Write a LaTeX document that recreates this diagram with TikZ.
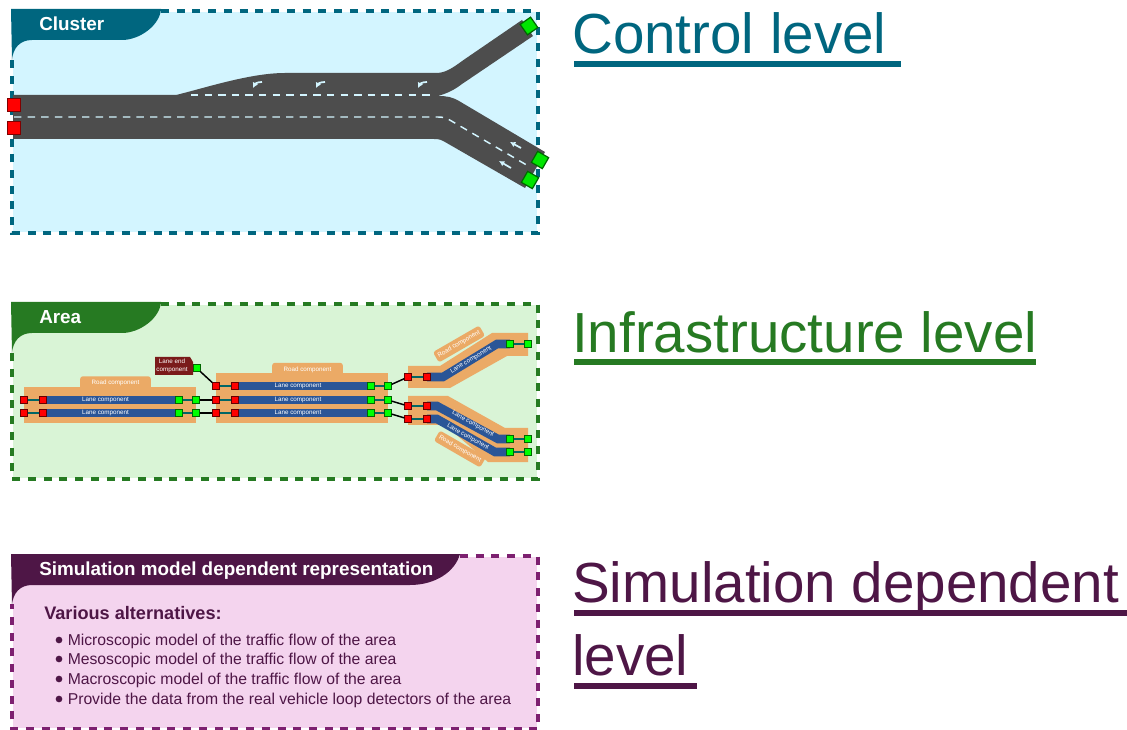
\documentclass[tikz,border=0pt]{standalone}
\usepackage{fontspec}
\setmainfont{Liberation Sans}
\usepackage{xcolor}
\usetikzlibrary{arrows.meta}

\definecolor{clusterblue}{HTML}{00667F}
\definecolor{clusterfill}{HTML}{D3F5FF}
\definecolor{areagreen}{HTML}{267A22}
\definecolor{areafill}{HTML}{D9F4D6}
\definecolor{simpurple}{HTML}{4E1646}
\definecolor{simdash}{HTML}{7D2070}
\definecolor{simfill}{HTML}{F4D4EE}
\definecolor{roadgrey}{HTML}{4D4D4D}
\definecolor{roadorange}{HTML}{EBAA66}
\definecolor{laneblue}{HTML}{2A5597}
\definecolor{endred}{HTML}{7A1A1A}

\tikzset{
 framedash/.style={line width=2.5pt, dash pattern=on 6pt off 5.8pt},
 tabtext/.style={anchor=base west, inner sep=0pt, text=white, font=\fontsize{14.15}{16}\selectfont\bfseries},
 leveltext/.style={anchor=base west, inner sep=0pt, font=\fontsize{42.4}{48}\selectfont},
 levelrule/.style={line width=5pt},
 bigred/.style={draw=red!50!black, fill=red, line width=0.9pt, inner sep=0pt, minimum size=9.5pt},
 biggreen/.style={draw=green!40!black, fill=green!90!black, line width=0.9pt, inner sep=0pt, minimum size=9.5pt},
 redend/.style={draw=red!40!black, fill=red, line width=0.5pt, inner sep=0pt, minimum size=5pt},
 greenend/.style={draw=green!40!black, fill=green, line width=0.5pt, inner sep=0pt, minimum size=5pt},
 inlink/.style={draw=teal!80!black, line width=0.9pt},
 outlink/.style={draw=black, line width=1.1pt},
 lanepath/.style={draw=laneblue, line width=6.4pt},
 smalltext/.style={inner sep=0pt, text=white, font=\fontsize{4.7}{5.6}\selectfont},
 roadtab/.style={fill=roadorange, rounded corners=2pt, minimum width=40pt, minimum height=9pt, inner sep=0pt, text=white, font=\fontsize{4.7}{5.6}\selectfont},
 markdash/.style={draw=clusterfill, line width=1.1pt, dash pattern=on 5.6pt off 4.6pt},
 markarrow/.style={draw=clusterfill, line width=1.3pt, -{Latex[length=4pt,width=4.4pt]}},
 bulletdot/.style={circle, fill=simpurple, inner sep=0pt, minimum size=5pt},
 bullettext/.style={anchor=base west, inner sep=0pt, text=simpurple, font=\fontsize{11.8}{14}\selectfont},
}

\begin{document}
\begin{tikzpicture}[x=0.75pt,y=-0.75pt]
\useasboundingbox (0,0) rectangle (1127,730);

% control level
\fill[clusterfill] (13,12) rectangle (537,232);
\draw[clusterblue, framedash] (161,11)--(538,11)--(538,233)--(12,233)--(12,60);
\fill[clusterblue] (11,9)--(161,9) .. controls (160,25) and (140,40) .. (122,40) --(32,40) .. controls (20,40) and (13,48) .. (12,60)--cycle;
\node[tabtext] (clusterTab) at (39,31) {Cluster};

\fill[roadgrey] (13,95)--(176,95) .. controls (205,88) and (250,73) .. (285,73)--(438,73)
 .. controls (448,72) and (455,66) .. (465,59)--(522,20)--(533,36)--(462,84)
 .. controls (454,90) and (448,93) .. (438,96) .. controls (447,96) and (452,97) .. (459,101)
 --(545,152)--(525,188)--(445,142) .. controls (441,140) and (440,139) .. (434,139)--(13,139)--cycle;
\draw[markdash] (191,95)--(430,95);
\draw[markdash] (14,117)--(438,117) .. controls (443,117) and (445,118) .. (448,119)--(530,167);
\draw[markarrow] (262,82) .. controls (257,82) and (255,84) .. (253,88);
\draw[markarrow] (325,82) .. controls (320,82) and (318,84) .. (316,88);
\draw[markarrow] (427,82) .. controls (422,82) and (420,84) .. (418,88);
\draw[markarrow] (521,148)--(510,142);
\draw[markarrow] (511,168)--(499,161);

\node[bigred] (inA) at (14,105) {};
\node[bigred] (inB) at (14,128) {};
\node[biggreen, rotate=35] (outA) at (529,26) {};
\node[biggreen, rotate=-30] (outB) at (540,160) {};
\node[biggreen, rotate=-30] (outC) at (530,180) {};

\node[leveltext, text=clusterblue] (controlText) at (572,54) {Control level};
\coordinate (controlRuleA) at (574,64);
\coordinate (controlRuleB) at (901,64);
\draw[clusterblue, levelrule] (controlRuleA)--(controlRuleB);

% infrastructure level
\fill[areafill] (13,305) rectangle (537,478);
\draw[areagreen, framedash] (161,304)--(538,304)--(538,479)--(12,479)--(12,352);
\fill[areagreen] (11,302)--(161,302) .. controls (160,318) and (140,333) .. (122,333) --(32,333) .. controls (20,333) and (13,341) .. (12,353)--cycle;
\node[tabtext] (areaTab) at (39,324) {Area};

% road components
\fill[roadorange] (24,387) rectangle (196,423);
\node[roadtab, minimum width=53pt, minimum height=10pt] (roadTabA) at (115.5,383) {\raisebox{1pt}{Road component}};
\fill[roadorange] (216,373) rectangle (388,423);
\node[roadtab, minimum width=53pt, minimum height=10pt] (roadTabB) at (307.5,369.5) {\raisebox{1pt}{Road component}};
\fill[roadorange] (408,366)--(440,366)--(492,333)--(528,333)--(528,356)--(507,356)--(450,388)--(408,388)--cycle;
\fill[roadorange] (408,396)--(448,396)--(505,428)--(528,428)--(528,462)--(488,462)--(445,425)--(408,425)--cycle;
\node[roadtab, rotate=30] (roadTabC) at (459,344) {Road component};
\node[roadtab, rotate=-30] (roadTabD) at (460,449) {Road component};

% lanes
\draw[lanepath] (43,400)--(179,400);
\draw[lanepath] (43,413)--(179,413);
\draw[lanepath] (235,386)--(371,386);
\draw[lanepath] (235,400)--(371,400);
\draw[lanepath] (235,413)--(371,413);
\draw[lanepath] (427,377)--(443,377)--(497,344)--(510,344);
\draw[lanepath] (427,406)--(437,406)--(498,439)--(510,439);
\draw[lanepath] (427,419)--(437,419)--(495,452)--(510,452);

\node[smalltext] (laneA) at (105.5,400) {Lane component};
\node[smalltext] (laneB) at (105.5,413) {Lane component};
\node[smalltext] (laneC) at (298,386) {Lane component};
\node[smalltext] (laneD) at (298,400) {Lane component};
\node[smalltext] (laneE) at (298,413) {Lane component};
\node[smalltext, rotate=31] (laneF) at (471,360) {Lane component};
\node[smalltext, rotate=-29] (laneG) at (473,424) {Lane component};
\node[smalltext, rotate=-29] (laneH) at (468,437) {Lane component};

% lane end component
\fill[endred] (155,357)--(190,357)--(193,362)--(193,375)--(155,375)--cycle;
\node[smalltext, align=center] (laneEnd) at (172,366) {Lane end\\component};

% end points
\node[redend] (ra1) at (24,400) {};
\node[redend] (ra2) at (43,400) {};
\node[greenend] (ga1) at (179,400) {};
\node[greenend] (ga2) at (196,400) {};
\node[redend] (rb1) at (24,413) {};
\node[redend] (rb2) at (43,413) {};
\node[greenend] (gb1) at (179,413) {};
\node[greenend] (gb2) at (196,413) {};

\node[greenend] (gEnd) at (196.5,368) {};

\node[redend] (rc1) at (216,386) {};
\node[redend] (rc2) at (235,386) {};
\node[greenend] (gc1) at (371,386) {};
\node[greenend] (gc2) at (388,386) {};
\node[redend] (rd1) at (216,400) {};
\node[redend] (rd2) at (235,400) {};
\node[greenend] (gd1) at (371,400) {};
\node[greenend] (gd2) at (388,400) {};
\node[redend] (re1) at (216,413) {};
\node[redend] (re2) at (235,413) {};
\node[greenend] (ge1) at (371,413) {};
\node[greenend] (ge2) at (388,413) {};

\node[redend] (rf1) at (408,377) {};
\node[redend] (rf2) at (427,377) {};
\node[greenend] (gf1) at (510,344) {};
\node[greenend] (gf2) at (528,344) {};
\node[redend] (rg1) at (408,406) {};
\node[redend] (rg2) at (427,406) {};
\node[greenend] (gg1) at (510,439) {};
\node[greenend] (gg2) at (528,439) {};
\node[redend] (rh1) at (408,419) {};
\node[redend] (rh2) at (427,419) {};
\node[greenend] (gh1) at (510,452) {};
\node[greenend] (gh2) at (528,452) {};

\draw[inlink] (ra1)--(ra2);
\draw[inlink] (ga1)--(ga2);
\draw[inlink] (rb1)--(rb2);
\draw[inlink] (gb1)--(gb2);
\draw[inlink] (rc1)--(rc2);
\draw[inlink] (gc1)--(gc2);
\draw[inlink] (rd1)--(rd2);
\draw[inlink] (gd1)--(gd2);
\draw[inlink] (re1)--(re2);
\draw[inlink] (ge1)--(ge2);
\draw[inlink] (rf1)--(rf2);
\draw[inlink] (gf1)--(gf2);
\draw[inlink] (rg1)--(rg2);
\draw[inlink] (gg1)--(gg2);
\draw[inlink] (rh1)--(rh2);
\draw[inlink] (gh1)--(gh2);

\draw[outlink] (gEnd)--(rc1);
\draw[outlink] (ga2)--(rd1);
\draw[outlink] (gb2)--(re1);
\draw[outlink] (gc2)--(rf1);
\draw[outlink] (gd2)--(rg1);
\draw[outlink] (ge2)--(rh1);

\node[leveltext, text=areagreen] (infraText) at (572,353) {Infrastructure level};
\coordinate (infraRuleA) at (574,362);
\coordinate (infraRuleB) at (1036,362);
\draw[areagreen, levelrule] (infraRuleA)--(infraRuleB);

% simulation dependent level
\fill[simfill] (13,557) rectangle (537,728);
\draw[simdash, framedash] (460,556)--(538,556)--(538,729)--(12,729)--(12,604);
\fill[simpurple] (11,554)--(460,554) .. controls (455,572) and (435,585) .. (410,585) --(32,585) .. controls (20,585) and (13,593) .. (12,605)--cycle;
\node[tabtext] (simTab) at (39,575) {Simulation model dependent representation};
\node[tabtext, text=simpurple, font=\fontsize{13.6}{16}\selectfont\bfseries] (variousText) at (44,619) {Various alternatives:};

\node[bulletdot] (dotA) at (59,640) {};
\node[bullettext] (itemA) at (67.5,645) {Microscopic model of the traffic flow of the area};
\node[bulletdot] (dotB) at (59,659) {};
\node[bullettext] (itemB) at (67.5,664.5) {Mesoscopic model of the traffic flow of the area};
\node[bulletdot] (dotC) at (59,679) {};
\node[bullettext] (itemC) at (67.5,684) {Macroscopic model of the traffic flow of the area};
\node[bulletdot] (dotD) at (59,699) {};
\node[bullettext] (itemD) at (67.5,704) {Provide the data from the real vehicle loop detectors of the area};

\node[leveltext, text=simpurple] (simText) at (572,602) {Simulation dependent};
\coordinate (simRuleA) at (574,613);
\coordinate (simRuleB) at (1127,613);
\draw[simpurple, levelrule] (simRuleA)--(simRuleB);
\node[leveltext, text=simpurple] (levelText) at (572,675) {level};
\coordinate (levelRuleA) at (574,686);
\coordinate (levelRuleB) at (697,686);
\draw[simpurple, levelrule] (levelRuleA)--(levelRuleB);

\end{tikzpicture}
\end{document}
